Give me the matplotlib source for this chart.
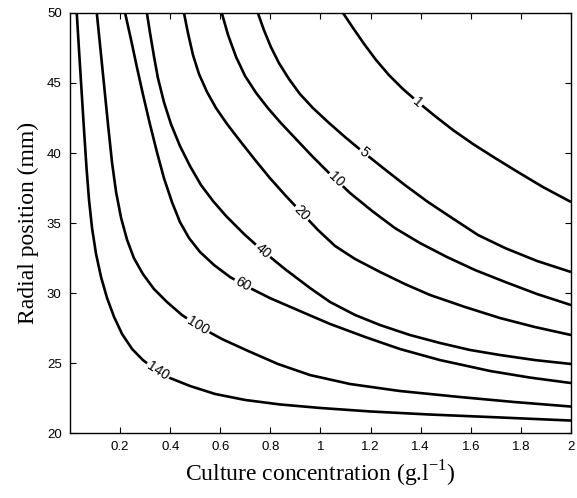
import matplotlib
matplotlib.use("Agg")
import matplotlib.pyplot as plt
import numpy as np

# contour levels and the curves (culture conc. g/l, radial position mm)
levels = [1, 5, 10, 20, 40, 60, 100, 140]

x_1 = [1.090, 1.130, 1.174, 1.222, 1.273, 1.329, 1.389, 1.457, 1.529, 1.609, 1.697, 1.788,
       1.888, 2.0]
y_1 = [50.0, 48.93, 47.79, 46.64, 45.57, 44.57, 43.64, 42.64, 41.64, 40.64, 39.64, 38.64,
       37.57, 36.5]

x_5 = [0.750, 0.774, 0.802, 0.834, 0.874, 0.918, 0.970, 1.030, 1.098, 1.170, 1.250, 1.337,
       1.429, 1.525, 1.629, 1.737, 1.864, 2.0]
y_5 = [50.0, 48.79, 47.57, 46.43, 45.29, 44.21, 43.21, 42.21, 41.14, 40.07, 38.93, 37.71,
       36.5, 35.36, 34.14, 33.21, 32.29, 31.5]

x_10 = [0.606, 0.631, 0.663, 0.699, 0.743, 0.790, 0.842, 0.902, 0.966, 1.038, 1.118, 1.206,
        1.297, 1.397, 1.505, 1.617, 1.737, 1.864, 2.0]
y_10 = [50.0, 48.43, 46.86, 45.5, 44.29, 43.21, 42.14, 41.0, 39.79, 38.5, 37.14, 35.86,
        34.64, 33.57, 32.57, 31.64, 30.79, 29.93, 29.14]

x_20 = [0.455, 0.471, 0.491, 0.515, 0.547, 0.583, 0.627, 0.679, 0.739, 0.798, 0.862, 0.926,
        0.990, 1.058, 1.138, 1.238, 1.337, 1.437, 1.577, 1.717, 1.856, 2.0]
y_20 = [50.0, 48.57, 47.0, 45.64, 44.36, 43.21, 42.07, 40.86, 39.5, 38.21, 36.93, 35.71,
        34.5, 33.36, 32.43, 31.5, 30.64, 29.86, 29.0, 28.21, 27.57, 27.0]

x_40 = [0.307, 0.319, 0.335, 0.351, 0.375, 0.403, 0.439, 0.479, 0.523, 0.571, 0.623, 0.695,
        0.770, 0.858, 0.958, 1.038, 1.138, 1.238, 1.357, 1.477, 1.597, 1.717, 1.856, 2.0]
y_40 = [50.0, 48.64, 46.93, 45.36, 43.64, 42.07, 40.5, 39.07, 37.71, 36.57, 35.5, 34.21,
        33.0, 31.71, 30.36, 29.36, 28.43, 27.71, 27.0, 26.43, 25.93, 25.57, 25.21, 24.93]

x_60 = [0.220, 0.244, 0.267, 0.291, 0.319, 0.347, 0.375, 0.407, 0.439, 0.475, 0.519, 0.575,
        0.639, 0.707, 0.798, 0.918, 1.038, 1.178, 1.317, 1.477, 1.677, 1.836, 2.0]
y_60 = [50.0, 48.07, 46.14, 44.21, 42.07, 40.07, 38.21, 36.5, 35.07, 33.93, 32.93, 32.0,
        31.14, 30.46, 29.64, 28.71, 27.79, 26.86, 26.0, 25.21, 24.43, 23.96, 23.57]

x_100 = [0.107, 0.120, 0.136, 0.152, 0.168, 0.184, 0.204, 0.228, 0.255, 0.291, 0.335, 0.387,
         0.447, 0.519, 0.607, 0.711, 0.830, 0.958, 1.118, 1.317, 1.557, 1.776, 2.0]
y_100 = [50.0, 47.71, 44.86, 42.0, 39.29, 37.21, 35.36, 33.79, 32.5, 31.36, 30.29, 29.36,
         28.43, 27.57, 26.71, 25.86, 24.93, 24.14, 23.5, 23.0, 22.57, 22.21, 21.89]

x_140 = [0.027, 0.036, 0.046, 0.056, 0.066, 0.076, 0.088, 0.104, 0.124, 0.148, 0.176, 0.208,
         0.248, 0.291, 0.339, 0.399, 0.479, 0.579, 0.699, 0.838, 0.998, 1.198, 1.437, 1.717,
         2.0]
y_140 = [50.0, 47.36, 44.5, 41.64, 38.93, 36.64, 34.64, 32.79, 31.14, 29.64, 28.29, 27.07,
         26.0, 25.21, 24.57, 23.93, 23.36, 22.79, 22.36, 22.04, 21.79, 21.54, 21.32, 21.11,
         20.89]

curves_x = [x_1, x_5, x_10, x_20, x_40, x_60, x_100, x_140]
curves_y = [y_1, y_5, y_10, y_20, y_40, y_60, y_100, y_140]

# where each inline label sits (along x)
label_x = [1.389, 1.174, 1.062, 0.926, 0.77, 0.69, 0.511, 0.351]

xticks = [0.2, 0.4, 0.6, 0.8, 1.0, 1.2, 1.4, 1.6, 1.8, 2.0]
xticklabels = ["0.2", "0.4", "0.6", "0.8", "1", "1.2", "1.4", "1.6", "1.8", "2"]
yticks = [20, 25, 30, 35, 40, 45, 50]

plt.rcParams["font.family"] = ["Liberation Sans", "DejaVu Sans"]

fig = plt.figure(figsize=(5.77, 4.98), dpi=100)
ax = fig.add_axes([0.1213, 0.1305, 0.8683, 0.8434])
ax.set_xlim(0, 2)
ax.set_ylim(20, 50)

for cx, cy in zip(curves_x, curves_y):
    ax.plot(cx, cy, color="black", lw=1.9, solid_joinstyle="round", solid_capstyle="butt")

fig.canvas.draw()
for lev, lx, cx, cy in zip(levels, label_x, curves_x, curves_y):
    ly = np.interp(lx, cx, cy)
    # local angle in screen space
    p1 = ax.transData.transform((lx - 0.04, np.interp(lx - 0.04, cx, cy)))
    p2 = ax.transData.transform((lx + 0.04, np.interp(lx + 0.04, cx, cy)))
    ang = np.degrees(np.arctan2(p2[1] - p1[1], p2[0] - p1[0]))
    ax.text(lx, ly, str(lev), fontsize=10, ha="center", va="center", rotation=ang,
            rotation_mode="anchor",
            bbox=dict(boxstyle="square,pad=0.12", fc="white", ec="none"))

ax.set_xticks(xticks)
ax.set_xticklabels(xticklabels)
ax.set_yticks(yticks)
ax.tick_params(direction="in", top=True, right=True, length=4, width=0.8,
               labelsize=9.5, pad=6)
for s in ax.spines.values():
    s.set_linewidth(1.0)

ax.set_xlabel("Culture concentration (g.l$^{\\mathregular{-1}}$)", family="Liberation Serif",
              fontsize=17, labelpad=4)
ax.set_ylabel("Radial position (mm)", family="Liberation Serif", fontsize=17, labelpad=6)

fig.savefig("out.png", dpi=100, facecolor="white")
